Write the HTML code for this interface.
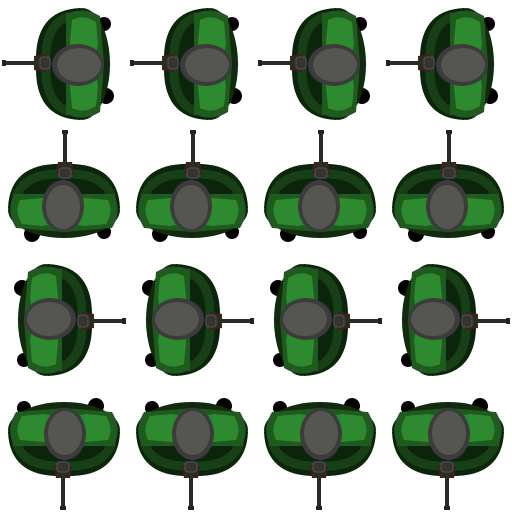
<!DOCTYPE html>
<html><head><meta charset="utf-8"><style>html,body{margin:0;padding:0;background:#fff}svg{display:block}</style></head>
<body>
<svg width="512" height="512" viewBox="0 0 512 512" xmlns="http://www.w3.org/2000/svg">
<defs>
<g id="guy">
  <circle cx="104" cy="24" r="7" fill="#000"/>
  <circle cx="106" cy="96" r="8" fill="#000"/>
  <ellipse cx="82" cy="64" rx="28" ry="56" fill="#0f2c0f"/>
  <path d="M80,8 Q34,10 36,64 Q34,118 80,120 Z" fill="#0c230c"/>
  <path d="M70,16 Q44,24 46,64 Q44,104 70,112" fill="none" stroke="#174017" stroke-width="9"/>
  <path d="M66,14 Q84,6 100,16 L104,64 L100,112 Q84,122 66,114 Z" fill="#1f5a1f"/>
  <path d="M72,20 Q84,14 96,22 L98,44 L94,64 L98,86 L96,106 Q84,114 72,108 L70,86 L74,64 L70,42 Z" fill="#2e8a2e"/>
  <path d="M34,56 L46,54 L52,64 L46,72 L34,70 Z" fill="#3a2414"/>
  <rect x="2" y="61" width="48" height="4" fill="#2a2a2a"/>
  <rect x="2" y="60" width="4" height="6" fill="#222"/>
  <rect x="40" y="57" width="10" height="12" rx="3" fill="#333" stroke="#555" stroke-width="1"/>
  <ellipse cx="78" cy="65" rx="26" ry="21" fill="#3b3b3b"/>
  <ellipse cx="79" cy="65" rx="22" ry="17" fill="#555652"/>
</g>
</defs>
<g>
  <use href="#guy" transform="translate(0,0)"/>
  <use href="#guy" transform="translate(128,0)"/>
  <use href="#guy" transform="translate(256,0)"/>
  <use href="#guy" transform="translate(384,0)"/>
</g>
<g>
  <use href="#guy" transform="translate(0,128) rotate(90 64 64)"/>
  <use href="#guy" transform="translate(128,128) rotate(90 64 64)"/>
  <use href="#guy" transform="translate(256,128) rotate(90 64 64)"/>
  <use href="#guy" transform="translate(384,128) rotate(90 64 64)"/>
</g>
<g>
  <use href="#guy" transform="translate(0,256) rotate(180 64 64)"/>
  <use href="#guy" transform="translate(128,256) rotate(180 64 64)"/>
  <use href="#guy" transform="translate(256,256) rotate(180 64 64)"/>
  <use href="#guy" transform="translate(384,256) rotate(180 64 64)"/>
</g>
<g>
  <use href="#guy" transform="translate(0,384) rotate(270 64 64)"/>
  <use href="#guy" transform="translate(128,384) rotate(270 64 64)"/>
  <use href="#guy" transform="translate(256,384) rotate(270 64 64)"/>
  <use href="#guy" transform="translate(384,384) rotate(270 64 64)"/>
</g>
</svg>
</body></html>
